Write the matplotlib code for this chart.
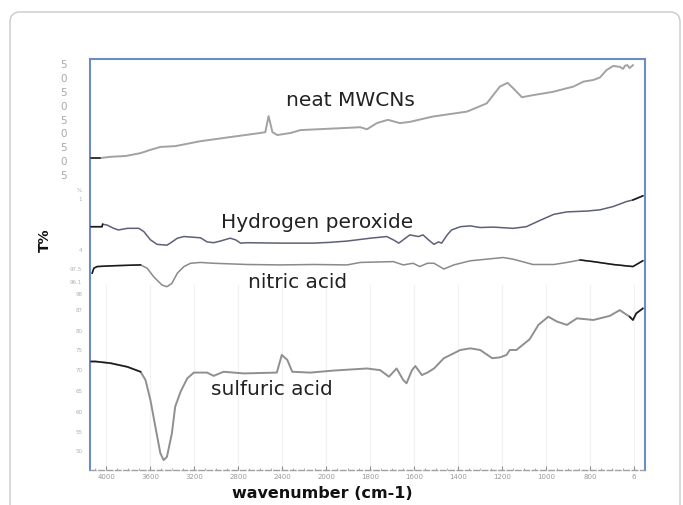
import numpy as np
import matplotlib
matplotlib.use("Agg")
import matplotlib.pyplot as plt
from matplotlib.patches import FancyBboxPatch
from matplotlib.ticker import FixedLocator

# ---------------- data (wavenumber cm-1, offset T%) ----------------
neat_w = [4140, 4055, 3965, 3825, 3690, 3600, 3510, 3375, 3145, 2875, 2600, 2555, 2525,
          2490, 2445, 2325, 2235, 1845, 1815, 1770, 1720, 1665, 1620, 1515, 1360, 1270,
          1210, 1175, 1150, 1110, 1060, 970, 875, 830, 785, 755, 725, 695, 665, 650,
          640, 630, 620, 605]
neat_t = [75.9, 75.9, 76.2, 76.4, 77.1, 77.9, 78.6, 78.8, 80.0, 81.0, 82.0, 82.2, 86.1,
          82.2, 81.5, 82.0, 82.7, 83.4, 82.9, 84.4, 85.2, 84.4, 84.7, 86.0, 87.2, 89.2,
          93.3, 94.2, 92.9, 90.7, 91.2, 92.0, 93.3, 94.5, 94.9, 95.5, 97.3, 98.3, 98.1, 97.6,
          98.4, 98.5, 97.8, 98.5]

h2o2_w = [4140, 4040, 4035, 3995, 3935, 3890, 3810, 3705, 3660, 3600, 3540, 3450, 3420,
          3355, 3295, 3145, 3085, 3025, 2965, 2875, 2825, 2780, 2720, 2420, 2115, 1980,
          1905, 1800, 1725, 1695, 1670, 1650, 1620, 1580, 1560, 1535, 1510, 1490, 1475,
          1450, 1430, 1390, 1345, 1300, 1240, 1150, 1090, 1025, 965, 905, 815, 755, 695,
          635, 605, 560]
h2o2_t = [59.2, 59.2, 59.8, 59.6, 58.8, 58.4, 58.8, 58.8, 58.0, 56.0, 54.9, 54.7, 55.2,
          56.4, 56.8, 56.5, 55.5, 55.3, 55.7, 56.4, 56.0, 55.2, 55.3, 55.2, 55.2, 55.4,
          55.7, 56.4, 56.8, 56.0, 55.2, 56.0, 57.2, 56.8, 57.2, 56.0, 54.9, 55.5, 55.2,
          57.2, 58.4, 59.2, 59.4, 59.0, 59.1, 58.8, 59.2, 60.8, 62.2, 62.8, 63.0, 63.3, 64.1,
          65.3, 65.7, 66.7]

nitric_w = [4130, 4115, 4085, 3935, 3690, 3630, 3570, 3495, 3450, 3405, 3355, 3295, 3235,
            3145, 3025, 2720, 2420, 2115, 1905, 1845, 1695, 1650, 1605, 1575, 1540, 1510,
            1465, 1420, 1345, 1270, 1195, 1150, 1060, 965, 905, 845, 785, 695, 605, 560]
nitric_t = [47.9, 49.1, 49.5, 49.7, 49.9, 49.1, 47.0, 45.0, 44.6, 45.4, 47.9, 49.5, 50.3,
            50.5, 50.3, 50.0, 49.9, 50.0, 49.9, 50.5, 50.7, 49.9, 50.3, 49.5, 50.3, 50.3,
            48.9, 49.9, 50.9, 51.3, 51.7, 51.3, 50.0, 50.0, 50.5, 51.1, 50.7, 50.0, 49.5, 50.9]

sulf_w = [4140, 4100, 3965, 3810, 3690, 3645, 3600, 3555, 3510, 3480, 3450, 3405, 3375,
          3325, 3265, 3205, 3085, 3025, 2935, 2750, 2450, 2405, 2355, 2310, 2145, 1965,
          1815, 1755, 1715, 1680, 1650, 1635, 1610, 1595, 1565, 1540, 1510, 1465, 1390,
          1345, 1300, 1245, 1210, 1180, 1165, 1135, 1075, 1035, 990, 950, 905, 860, 785,
          710, 665, 620, 605, 590, 560]
sulf_t = [26.4, 26.4, 26.0, 25.1, 23.9, 21.9, 17.0, 10.5, 4.1, 2.4, 3.2, 8.9, 15.4,
          19.1, 22.3, 23.7, 23.7, 22.9, 23.9, 23.5, 23.7, 28.0, 26.8, 23.9, 23.7, 24.2,
          24.7, 24.3, 22.7, 24.7, 21.9, 21.1, 24.3, 25.3, 23.1, 23.7, 24.7, 27.2, 29.2,
          29.6, 29.2, 27.2, 27.4, 28.0, 29.2, 29.2, 31.8, 35.3, 37.3, 36.1, 35.3, 36.9, 36.5,
          37.5, 38.9, 37.3, 36.5, 38.1, 39.3]

labels = ["neat MWCNs", "Hydrogen peroxide", "nitric acid", "sulfuric acid"]
label_w = [1891, 2086, 2259, 2495]
label_t = [90.0, 60.1, 45.7, 19.5]

xticks = [4000, 3600, 3200, 2800, 2400, 2000, 1800, 1600, 1400, 1200, 1000, 800, 600]
xticklabels = ["4000", "3600", "3200", "2800", "2400", "2000", "1800", "1600", "1400",
               "1200", "1000", "800", "6"]

# faint leftover scale labels from the scanned figure
faint_upper_t = [98.5, 95.1, 91.7, 88.3, 84.9, 81.8, 78.3, 74.9, 71.5]
faint_upper_lbl = ["5", "0", "5", "0", "5", "0", "5", "0", "5"]
faint_lower_t = [68.1, 65.7, 53.5, 48.7, 45.7, 42.6, 38.9, 33.8, 29.0, 24.1, 19.2, 14.1, 9.2, 4.4]
faint_lower_lbl = ["%", "1", "4", "97.5", "96.1", "98", "87", "80", "75", "70", "65", "60", "55", "50"]

# ---------------- figure ----------------
fig = plt.figure(figsize=(6.83, 5.05), dpi=100)
plt.rcParams['font.family'] = ['DejaVu Sans']

# outer rounded border (open at the bottom)
border = FancyBboxPatch((0.10, -0.3), 6.70, 4.93 + 0.3,
                        boxstyle="round,pad=0,rounding_size=0.1",
                        transform=fig.dpi_scale_trans, facecolor="none",
                        edgecolor="#c9c9c9", linewidth=1.0, clip_on=False)
fig.patches.append(border)

ax = fig.add_axes([90 / 683, 1 - 470 / 505, 555 / 683, 411 / 505])


def fwd(w):
    w = np.asarray(w, dtype=float)
    return np.where(w > 2000, 2000 + (w - 2000) / 2.0, w)


def inv(u):
    u = np.asarray(u, dtype=float)
    return np.where(u > 2000, 2000 + (u - 2000) * 2.0, u)


ax.set_xscale('function', functions=(fwd, inv))
ax.set_xlim(4150, 550)
ax.set_ylim(0, 100)

# faint grid in the lower panel
for xt in xticks:
    ax.axvline(xt, ymin=0.0, ymax=0.45, color="#f1f1f1", lw=0.8, zorder=0)

series = [
    (neat_w, neat_t, "#a2a2a2", 1.4, [(4050, 5000)]),
    (h2o2_w, h2o2_t, "#5d6079", 1.1, [(4035, 5000), (0, 606)]),
    (nitric_w, nitric_t, "#8a8a8a", 1.1, [(3690, 5000), (0, 846)]),
    (sulf_w, sulf_t, "#8f8f8f", 1.4, [(3690, 5000), (0, 621)]),
]
for w, t, c, lw, blacks in series:
    w = np.asarray(w)
    t = np.asarray(t)
    ax.plot(w, t, color=c, lw=lw, zorder=3)
    for lo, hi in blacks:
        m = (w >= lo) & (w <= hi)
        ax.plot(w[m], t[m], color="#1a1a1a", lw=1.1, zorder=4)

for lbl, lw_, lt in zip(labels, label_w, label_t):
    ax.text(lw_, lt, lbl, ha="center", va="center", fontsize=14.5, color="#222222", zorder=5)

ytr = ax.get_yaxis_transform()
for t, s in zip(faint_upper_t, faint_upper_lbl):
    ax.text(-0.042, t, s, transform=ytr, ha="right", va="center", fontsize=7.5,
            color="#a8a8a8", clip_on=False)
for t, s in zip(faint_lower_t, faint_lower_lbl):
    ax.text(-0.014, t, s, transform=ytr, ha="right", va="center", fontsize=4,
            color="#b0b0b0", clip_on=False)

# spines
blue = "#6b8cc8"
for side in ("left", "top", "right"):
    ax.spines[side].set_color(blue)
    ax.spines[side].set_linewidth(1.5)
ax.spines["bottom"].set_color("#a0a0a0")
ax.spines["bottom"].set_linewidth(1.0)
ax.spines["bottom"].set_linestyle((0, (4, 2)))

ax.set_yticks([])
ax.xaxis.set_major_locator(FixedLocator(xticks))
ax.set_xticklabels(xticklabels)
minor = [w for w in range(4100, 2000, -100)] + [w for w in range(1950, 550, -50)]
ax.xaxis.set_minor_locator(FixedLocator(minor))
ax.tick_params(axis="x", which="major", direction="in", length=3, color="#909090",
               labelsize=5, labelcolor="#9a9a9a", pad=3)
ax.tick_params(axis="x", which="minor", direction="in", length=1.5, color="#a0a0a0")

fig.text(45 / 683, 1 - 240 / 505, "T%", rotation=90, ha="center", va="center",
         fontsize=10, fontweight="bold", color="#111111")
fig.text(322 / 683, 1 - 494 / 505, "wavenumber (cm-1)", ha="center", va="center",
         fontsize=11.5, fontweight="bold", color="#111111")

fig.savefig("out.png", dpi=100)
